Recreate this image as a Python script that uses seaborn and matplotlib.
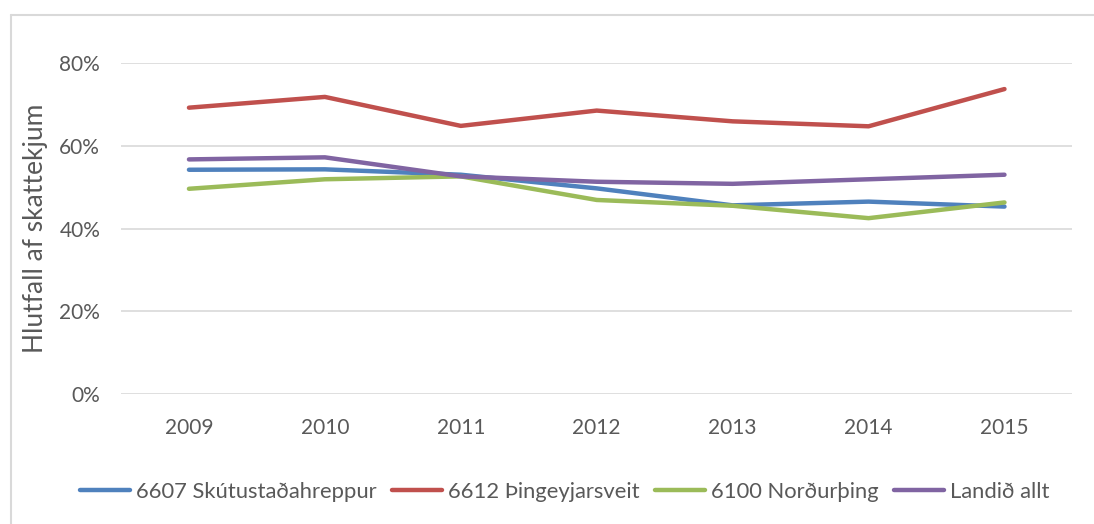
import numpy as np
import pandas as pd
import matplotlib
matplotlib.use("Agg")
import matplotlib.pyplot as plt
from matplotlib.lines import Line2D
from matplotlib.ticker import PercentFormatter
import seaborn as sns

years = ["2009", "2010", "2011", "2012", "2013", "2014", "2015"]
skutustadahreppur = [54.2, 54.3, 53.0, 49.7, 45.6, 46.5, 45.3]
thingeyjarsveit = [69.2, 71.8, 64.8, 68.5, 65.9, 64.7, 73.7]
nordurthing = [49.6, 51.9, 52.6, 46.9, 45.5, 42.5, 46.3]
landid_allt = [56.7, 57.2, 52.6, 51.3, 50.8, 51.9, 53.0]

series_names = ["6607 Skútustaðahreppur", "6612 Þingeyjarsveit",
                "6100 Norðurþing", "Landið allt"]
series_values = [skutustadahreppur, thingeyjarsveit, nordurthing, landid_allt]
colors = ["#4F81BD", "#C0504D", "#9BBB59", "#8064A2"]

df = pd.concat(
    [pd.DataFrame({"year": years, "value": vals, "series": name})
     for name, vals in zip(series_names, series_values)],
    ignore_index=True,
)
df["pos"] = df["year"].map({y: i for i, y in enumerate(years)})

sns.set_theme(style="white")
plt.rcParams["font.family"] = ["Lato", "DejaVu Sans"]

fig = plt.figure(figsize=(10.94, 5.24), dpi=100)
ax = fig.add_axes([0.1106, 0.248, 0.8697, 0.6318])

sns.lineplot(data=df, x="pos", y="value", hue="series", hue_order=series_names,
             palette=colors, linewidth=3.2, ax=ax, legend=False,
             solid_capstyle="round", solid_joinstyle="round")

ax.set_xlim(-0.5, len(years) - 0.5)
ax.set_ylim(0, 80)
ax.set_yticks([0, 20, 40, 60, 80])
ax.yaxis.set_major_formatter(PercentFormatter(decimals=0))
ax.set_xticks(range(len(years)))
ax.set_xticklabels(years)
ax.grid(axis="y", color="#D9D9D9", linewidth=1.2)
ax.set_axisbelow(True)
for s in ax.spines.values():
    s.set_visible(False)
ax.tick_params(axis="both", length=0, labelsize=15, colors="#595959")
ax.tick_params(axis="y", pad=15)
ax.tick_params(axis="x", pad=17)
ax.set_xlabel("")
ax.set_ylabel("Hlutfall af skattekjum", fontsize=19, color="#595959", labelpad=8)

handles = [Line2D([0], [0], color=c, linewidth=3.2, solid_capstyle="round")
           for c in colors]
fig.legend(handles, series_names, loc="center", bbox_to_anchor=(0.516, 0.062),
           ncol=4, frameon=False, fontsize=15.8, handlelength=2.3,
           handletextpad=0.25, columnspacing=0.7, labelcolor="#595959")

# light chart border along the top and left edges
fig.add_artist(Line2D([11 / 1094, 1.0], [1 - 15 / 524, 1 - 15 / 524],
                      transform=fig.transFigure, color="#D9D9D9", linewidth=1.5))
fig.add_artist(Line2D([11 / 1094, 11 / 1094], [0.0, 1 - 15 / 524],
                      transform=fig.transFigure, color="#D9D9D9", linewidth=1.5))

fig.savefig("out.png", dpi=100, facecolor="white")
